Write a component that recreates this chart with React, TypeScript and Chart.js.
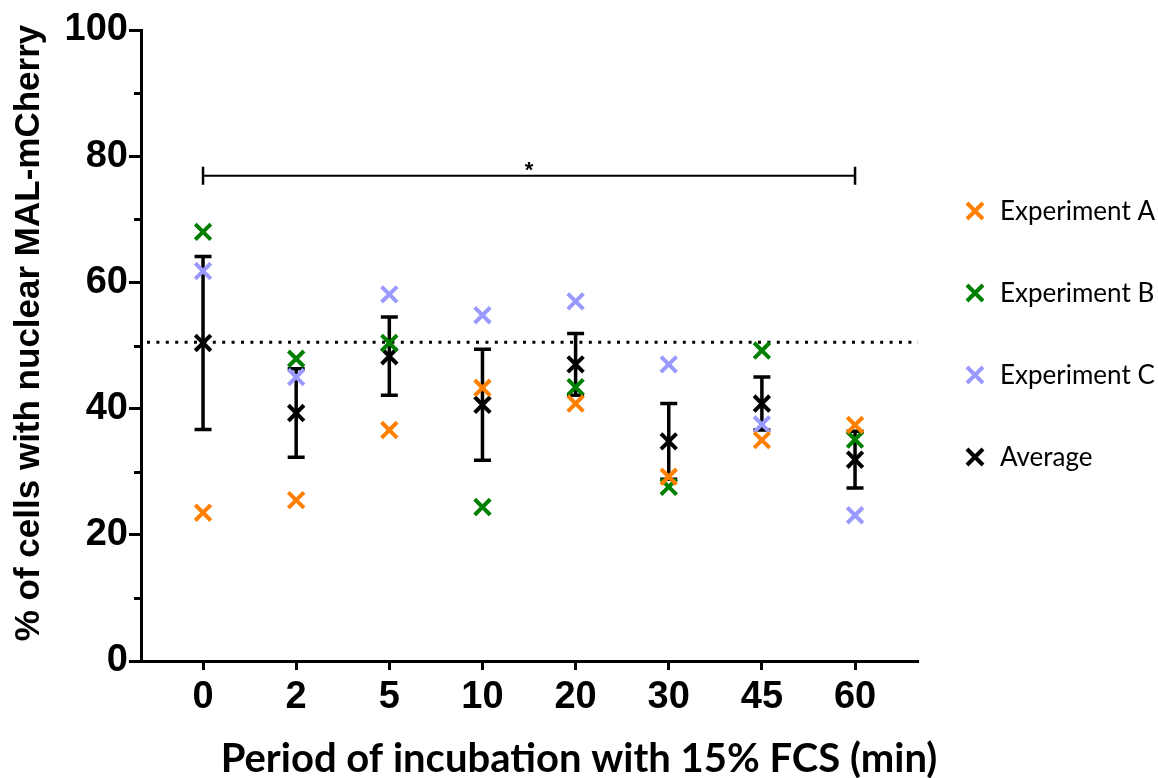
import React, { useEffect, useRef } from 'react';
import { Chart, registerables } from 'chart.js';

Chart.register(...registerables);

// ---- data ----
const categories = ['0', '2', '5', '10', '20', '30', '45', '60'];
const experimentA = [23.5, 25.5, 36.6, 43.3, 40.8, 29.2, 35.0, 37.4];
const experimentB = [68.0, 47.9, 50.4, 24.4, 43.4, 27.6, 49.2, 35.1];
const experimentC = [61.8, 45.0, 58.1, 54.8, 57.0, 47.0, 37.5, 23.1];
const average = [50.4, 39.3, 48.3, 40.6, 47.0, 34.8, 40.8, 31.9];
const averageError = [13.7, 7.0, 6.2, 8.8, 4.9, 6.0, 4.2, 4.5];
const seriesNames = ['Experiment A', 'Experiment B', 'Experiment C', 'Average'];
const seriesColors = ['#FF8000', '#008000', '#9999FF', '#000000'];
const yTicks = [0, 20, 40, 60, 80, 100];
const yMinorTicks = [10, 30, 50, 70, 90];
const baselineValue = 50.5;
const sigFromIndex = 0;
const sigToIndex = 7;
const sigValue = 76.9;
const sigLabel = '*';
const xTitle = 'Period of incubation with 15% FCS (min)';
const yTitle = '% of cells with nuclear MAL-mCherry';

const toPoints = (arr: number[]) => arr.map((v, i) => ({ x: i, y: v }));

const decorPlugin = {
  id: 'decor',
  beforeDatasetsDraw(chart: any) {
    const { ctx, chartArea, scales } = chart;
    const x = scales.x;
    const y = scales.y;
    ctx.save();
    // dotted baseline
    ctx.strokeStyle = '#000';
    ctx.lineWidth = 3;
    ctx.setLineDash([3, 6.4]);
    const by = y.getPixelForValue(baselineValue);
    ctx.beginPath();
    ctx.moveTo(chartArea.left + 6, by);
    ctx.lineTo(chartArea.right, by);
    ctx.stroke();
    ctx.setLineDash([]);
    // error bars
    ctx.lineWidth = 3.5;
    average.forEach((m, i) => {
      const px = x.getPixelForValue(i);
      const top = y.getPixelForValue(m + averageError[i]);
      const bot = y.getPixelForValue(m - averageError[i]);
      ctx.beginPath();
      ctx.moveTo(px, top);
      ctx.lineTo(px, bot);
      ctx.moveTo(px - 8.5, top);
      ctx.lineTo(px + 8.5, top);
      ctx.moveTo(px - 8.5, bot);
      ctx.lineTo(px + 8.5, bot);
      ctx.stroke();
    });
    // significance bracket
    const sx1 = x.getPixelForValue(sigFromIndex);
    const sx2 = x.getPixelForValue(sigToIndex);
    const sy = y.getPixelForValue(sigValue);
    ctx.lineWidth = 2;
    ctx.beginPath();
    ctx.moveTo(sx1, sy);
    ctx.lineTo(sx2, sy);
    ctx.stroke();
    ctx.lineWidth = 2.5;
    ctx.beginPath();
    ctx.moveTo(sx1, sy - 9);
    ctx.lineTo(sx1, sy + 9);
    ctx.moveTo(sx2, sy - 9);
    ctx.lineTo(sx2, sy + 9);
    ctx.stroke();
    ctx.fillStyle = '#000';
    ctx.font = 'bold 22px "Liberation Sans"';
    ctx.textAlign = 'center';
    ctx.textBaseline = 'alphabetic';
    ctx.fillText(sigLabel, (sx1 + sx2) / 2, sy + 1);
    ctx.restore();
  },
  afterDraw(chart: any) {
    const { ctx, chartArea, scales } = chart;
    const y = scales.y;
    ctx.save();
    // minor ticks on y axis
    ctx.strokeStyle = '#000';
    ctx.lineWidth = 3;
    ctx.beginPath();
    yMinorTicks.forEach((v) => {
      const py = Math.round(y.getPixelForValue(v)) + 0.5;
      ctx.moveTo(chartArea.left - 7, py);
      ctx.lineTo(chartArea.left, py);
    });
    ctx.stroke();
    // axis titles
    ctx.fillStyle = '#000';
    ctx.font = 'bold 40px Lato';
    ctx.textAlign = 'center';
    ctx.textBaseline = 'middle';
    ctx.fillText(xTitle, 579, 759);
    ctx.save();
    ctx.translate(29, 333);
    ctx.rotate(-Math.PI / 2);
    ctx.font = 'bold 35px "Liberation Sans"';
    ctx.fillText(yTitle, 0, 0);
    ctx.restore();
    // legend
    const lx = chartArea.right + 57;
    const ly0 = chartArea.top + 181;
    ctx.font = '26px Lato';
    ctx.textAlign = 'left';
    ctx.textBaseline = 'middle';
    seriesNames.forEach((name, i) => {
      const cy = ly0 + i * 82;
      ctx.strokeStyle = seriesColors[i];
      ctx.lineWidth = 4;
      ctx.beginPath();
      ctx.moveTo(lx - 8, cy - 8);
      ctx.lineTo(lx + 8, cy + 8);
      ctx.moveTo(lx + 8, cy - 8);
      ctx.lineTo(lx - 8, cy + 8);
      ctx.stroke();
      ctx.fillStyle = '#000';
      ctx.fillText(name, lx + 25, cy + 1);
    });
    ctx.restore();
  },
};

export default function App() {
  const canvasRef = useRef<HTMLCanvasElement | null>(null);

  useEffect(() => {
    if (!canvasRef.current) return;
    const seriesData = [experimentA, experimentB, experimentC, average];
    const chart = new Chart(canvasRef.current, {
      type: 'scatter',
      data: {
        datasets: seriesData.map((arr, i) => ({
          label: seriesNames[i],
          data: toPoints(arr),
          pointStyle: 'crossRot',
          pointRadius: 11,
          pointHoverRadius: 11,
          borderWidth: 4,
          pointBorderWidth: 4,
          borderColor: seriesColors[i],
          backgroundColor: seriesColors[i],
          showLine: false,
        })),
      },
      options: {
        animation: false,
        responsive: false,
        devicePixelRatio: 1,
        layout: { padding: { top: 30, right: 240, left: 0, bottom: 0 } },
        plugins: {
          legend: { display: false },
          tooltip: { enabled: false },
        },
        scales: {
          x: {
            type: 'linear',
            min: -0.666,
            max: 7.676,
            afterBuildTicks: (s: any) => {
              s.ticks = categories.map((_, i) => ({ value: i }));
            },
            afterFit: (s: any) => {
              s.height = 117;
            },
            border: { display: true, color: '#000', width: 3 },
            grid: {
              display: true,
              drawOnChartArea: false,
              drawTicks: true,
              tickLength: 9,
              tickWidth: 3,
              tickColor: '#000',
            },
            ticks: {
              color: '#000',
              padding: 5,
              maxRotation: 0,
              autoSkip: false,
              font: { family: '"Liberation Sans"', size: 38, weight: 'bold' },
              callback: (v: any) => categories[v] ?? '',
            },
          },
          y: {
            min: 0,
            max: 100,
            afterBuildTicks: (s: any) => {
              s.ticks = yTicks.map((v) => ({ value: v }));
            },
            afterFit: (s: any) => {
              s.width = 141;
            },
            border: { display: true, color: '#000', width: 3 },
            grid: {
              display: true,
              drawOnChartArea: false,
              drawTicks: true,
              tickLength: 12,
              tickWidth: 3,
              tickColor: '#000',
            },
            ticks: {
              color: '#000',
              padding: 1,
              font: { family: '"Liberation Sans"', size: 38, weight: 'bold' },
            },
          },
        },
      },
      plugins: [decorPlugin],
    } as any);
    return () => chart.destroy();
  }, []);

  return (
    <div style={{ position: 'absolute', left: 0, top: 0, width: 1158, height: 778, background: '#fff' }}>
      <canvas ref={canvasRef} width={1158} height={778} style={{ display: 'block', width: 1158, height: 778 }} />
    </div>
  );
}
